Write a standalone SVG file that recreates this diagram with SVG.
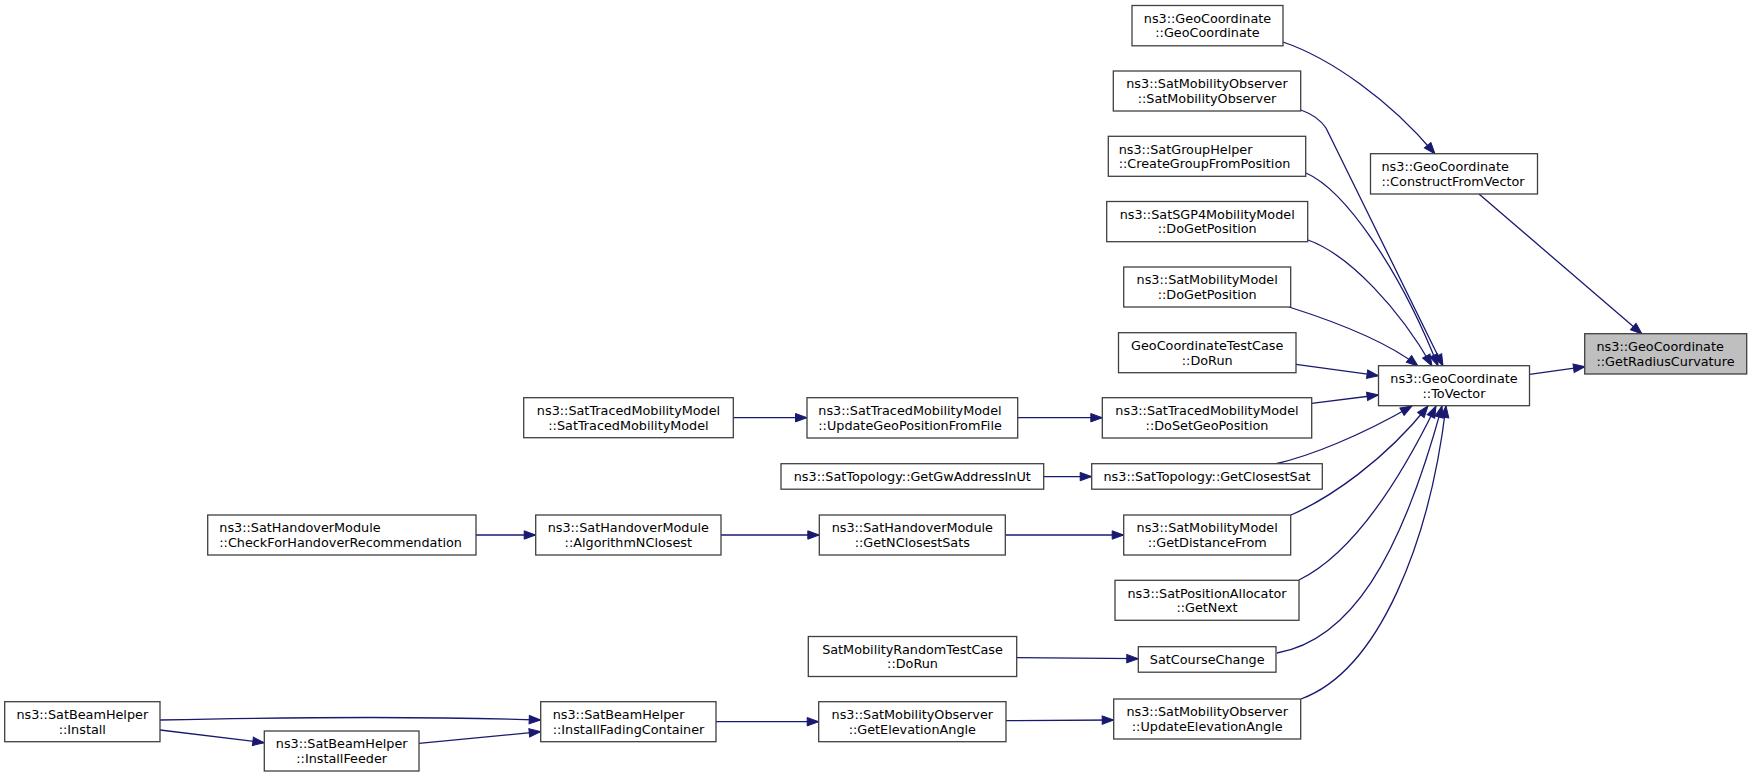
<svg xmlns="http://www.w3.org/2000/svg" width="1752" height="777" viewBox="0 0 1752 777">
<defs>
<style>
.nb{fill:#ffffff;stroke:#404040;stroke-width:1.3}
.root{fill:#bfbfbf;stroke:#404040;stroke-width:1.3}
text{font-family:"DejaVu Sans",sans-serif;font-size:12.8px;fill:#000000}
.c{text-anchor:middle}
.l{text-anchor:start}
.e{fill:none;stroke:#191970;stroke-width:1.3}
</style>
<marker id="ah" markerWidth="14" markerHeight="10" refX="12" refY="4.5" orient="auto" markerUnits="userSpaceOnUse" overflow="visible">
<path d="M0.5,0.3 L12,4.5 L0.5,8.7 Z" fill="#191970" stroke="#191970" stroke-width="1"/>
</marker>
</defs>
<rect width="1752" height="777" fill="#ffffff"/>

<g id="edges">
<path class="e" marker-end="url(#ah)" d="M1283,42 C1330,58 1390,100 1435,154"/>
<path class="e" marker-end="url(#ah)" d="M1479,194 L1642,334"/>
<path class="e" marker-end="url(#ah)" d="M1529.5,374.3 L1585,366.7"/>
<path class="e" marker-end="url(#ah)" d="M1301,110 C1312,114 1320,119 1326,128 L1443,366"/>
<path class="e" marker-end="url(#ah)" d="M1306,173 C1345,190 1400,270 1438,366"/>
<path class="e" marker-end="url(#ah)" d="M1308,240 C1350,255 1400,310 1432,366"/>
<path class="e" marker-end="url(#ah)" d="M1289,307 C1330,320 1385,340 1418,366"/>
<path class="e" marker-end="url(#ah)" d="M1296,364.3 L1378.5,375.7"/>
<path class="e" marker-end="url(#ah)" d="M1311.7,403.3 L1378.5,395"/>
<path class="e" marker-end="url(#ah)" d="M1275,464 C1310,456 1360,436 1412,406"/>
<path class="e" marker-end="url(#ah)" d="M1291,515 C1330,498 1385,460 1428,406"/>
<path class="e" marker-end="url(#ah)" d="M1299,580 C1350,555 1395,490 1436,406"/>
<path class="e" marker-end="url(#ah)" d="M1277,653 C1350,640 1400,560 1442,406"/>
<path class="e" marker-end="url(#ah)" d="M1301,699 C1380,670 1430,540 1446,406"/>
<path class="e" marker-end="url(#ah)" d="M733.3,417.7 L807,417.7"/>
<path class="e" marker-end="url(#ah)" d="M1017.7,417.7 L1102.3,417.7"/>
<path class="e" marker-end="url(#ah)" d="M1043.7,476.6 L1091.7,476.6"/>
<path class="e" marker-end="url(#ah)" d="M476,535 L535.7,535"/>
<path class="e" marker-end="url(#ah)" d="M721,535 L819.3,535"/>
<path class="e" marker-end="url(#ah)" d="M1005.3,535 L1123.7,535"/>
<path class="e" marker-end="url(#ah)" d="M1016.7,657.7 L1138.3,658.7"/>
<path class="e" marker-end="url(#ah)" d="M1006,720.7 L1113.7,720"/>
<path class="e" marker-end="url(#ah)" d="M716,721.7 L818.7,721.7"/>
<path class="e" marker-end="url(#ah)" d="M160,720 C300,717 450,717 540.7,720"/>
<path class="e" marker-end="url(#ah)" d="M160,730 L264.3,742.7"/>
<path class="e" marker-end="url(#ah)" d="M419,743.3 L540.7,731.7"/>
</g>

<g id="n_root">
<rect class="root" x="1584.7" y="333.7" width="162" height="40.3"/>
<text class="l" x="1596.5" y="351">ns3::GeoCoordinate</text>
<text class="l" x="1596.5" y="365.5">::GetRadiusCurvature</text>
</g>
<g id="n_tovector">
<rect class="nb" x="1378.5" y="365.7" width="151" height="40"/>
<text class="c" x="1454" y="383">ns3::GeoCoordinate</text>
<text class="c" x="1454" y="397.5">::ToVector</text>
</g>
<g id="n_constructfromvector">
<rect class="nb" x="1370.5" y="153.7" width="167" height="40.3"/>
<text class="l" x="1381.5" y="171">ns3::GeoCoordinate</text>
<text class="l" x="1381.5" y="185.5">::ConstructFromVector</text>
</g>
<g id="n_geocoordinate">
<rect class="nb" x="1132" y="5.5" width="151" height="40.3"/>
<text class="c" x="1207.5" y="22.8">ns3::GeoCoordinate</text>
<text class="c" x="1207.5" y="37.3">::GeoCoordinate</text>
</g>
<g id="n_satmobilityobserver">
<rect class="nb" x="1113.3" y="71" width="187.4" height="40"/>
<text class="c" x="1207" y="88.3">ns3::SatMobilityObserver</text>
<text class="c" x="1207" y="102.8">::SatMobilityObserver</text>
</g>
<g id="n_creategroupfromposition">
<rect class="nb" x="1108.3" y="136.3" width="197.4" height="40"/>
<text class="l" x="1118.7" y="153.6">ns3::SatGroupHelper</text>
<text class="l" x="1118.7" y="168.1">::CreateGroupFromPosition</text>
</g>
<g id="n_sgp4dogetposition">
<rect class="nb" x="1106.7" y="201.5" width="201" height="40.2"/>
<text class="c" x="1207.2" y="218.8">ns3::SatSGP4MobilityModel</text>
<text class="c" x="1207.2" y="233.3">::DoGetPosition</text>
</g>
<g id="n_smmdogetposition">
<rect class="nb" x="1123.7" y="267" width="167" height="40"/>
<text class="c" x="1207.2" y="284.3">ns3::SatMobilityModel</text>
<text class="c" x="1207.2" y="298.8">::DoGetPosition</text>
</g>
<g id="n_geocoordinatetestcase">
<rect class="nb" x="1118.5" y="332.7" width="177.5" height="40"/>
<text class="c" x="1207.2" y="350">GeoCoordinateTestCase</text>
<text class="c" x="1207.2" y="364.5">::DoRun</text>
</g>
<g id="n_dosetgeoposition">
<rect class="nb" x="1102.3" y="397.7" width="209.4" height="40.3"/>
<text class="c" x="1207" y="415">ns3::SatTracedMobilityModel</text>
<text class="c" x="1207" y="429.5">::DoSetGeoPosition</text>
</g>
<g id="n_getclosestsat">
<rect class="nb" x="1091.7" y="463.7" width="230.6" height="25.5"/>
<text class="c" x="1207" y="480.9">ns3::SatTopology::GetClosestSat</text>
</g>
<g id="n_getdistancefrom">
<rect class="nb" x="1123.7" y="515" width="167" height="40"/>
<text class="c" x="1207.2" y="532.3">ns3::SatMobilityModel</text>
<text class="c" x="1207.2" y="546.8">::GetDistanceFrom</text>
</g>
<g id="n_getnext">
<rect class="nb" x="1115" y="580.3" width="184" height="40"/>
<text class="c" x="1207" y="597.6">ns3::SatPositionAllocator</text>
<text class="c" x="1207" y="612.1">::GetNext</text>
</g>
<g id="n_satcoursechange">
<rect class="nb" x="1138.3" y="646.7" width="137.7" height="25.5"/>
<text class="c" x="1207.2" y="663.9">SatCourseChange</text>
</g>
<g id="n_updateelevationangle">
<rect class="nb" x="1113.7" y="699" width="187" height="40"/>
<text class="c" x="1207.2" y="716.3">ns3::SatMobilityObserver</text>
<text class="c" x="1207.2" y="730.8">::UpdateElevationAngle</text>
</g>
<g id="n_updategeopositionfromfile">
<rect class="nb" x="807" y="397.7" width="210.7" height="40.3"/>
<text class="l" x="818.3" y="415">ns3::SatTracedMobilityModel</text>
<text class="l" x="818.3" y="429.5">::UpdateGeoPositionFromFile</text>
</g>
<g id="n_getgwaddressinut">
<rect class="nb" x="781" y="463.7" width="262.7" height="25.5"/>
<text class="c" x="912.3" y="480.9">ns3::SatTopology::GetGwAddressInUt</text>
</g>
<g id="n_getnclosestsats">
<rect class="nb" x="819.3" y="515" width="186" height="40"/>
<text class="c" x="912.3" y="532.3">ns3::SatHandoverModule</text>
<text class="c" x="912.3" y="546.8">::GetNClosestSats</text>
</g>
<g id="n_satmobilityrandomtestcase">
<rect class="nb" x="808.3" y="636.5" width="208.4" height="40"/>
<text class="c" x="912.5" y="653.8">SatMobilityRandomTestCase</text>
<text class="c" x="912.5" y="668.3">::DoRun</text>
</g>
<g id="n_getelevationangle">
<rect class="nb" x="818.7" y="701.7" width="187.3" height="40"/>
<text class="c" x="912.3" y="719">ns3::SatMobilityObserver</text>
<text class="c" x="912.3" y="733.5">::GetElevationAngle</text>
</g>
<g id="n_sattracedmobilitymodel">
<rect class="nb" x="523.7" y="397.7" width="209.6" height="40"/>
<text class="c" x="628.5" y="415">ns3::SatTracedMobilityModel</text>
<text class="c" x="628.5" y="429.5">::SatTracedMobilityModel</text>
</g>
<g id="n_algorithmnclosest">
<rect class="nb" x="535.7" y="515" width="185.3" height="40"/>
<text class="c" x="628.3" y="532.3">ns3::SatHandoverModule</text>
<text class="c" x="628.3" y="546.8">::AlgorithmNClosest</text>
</g>
<g id="n_installfadingcontainer">
<rect class="nb" x="540.7" y="701.7" width="175.3" height="40"/>
<text class="l" x="552.7" y="719">ns3::SatBeamHelper</text>
<text class="l" x="552.7" y="733.5">::InstallFadingContainer</text>
</g>
<g id="n_checkforhandover">
<rect class="nb" x="207.7" y="515" width="268.3" height="40"/>
<text class="l" x="219.3" y="532.3">ns3::SatHandoverModule</text>
<text class="l" x="219.3" y="546.8">::CheckForHandoverRecommendation</text>
</g>
<g id="n_installfeeder">
<rect class="nb" x="264.3" y="731" width="154.7" height="40"/>
<text class="c" x="341.7" y="748.3">ns3::SatBeamHelper</text>
<text class="c" x="341.7" y="762.8">::InstallFeeder</text>
</g>
<g id="n_install">
<rect class="nb" x="4.7" y="701.7" width="155.3" height="40"/>
<text class="c" x="82.3" y="719">ns3::SatBeamHelper</text>
<text class="c" x="82.3" y="733.5">::Install</text>
</g>
</svg>
